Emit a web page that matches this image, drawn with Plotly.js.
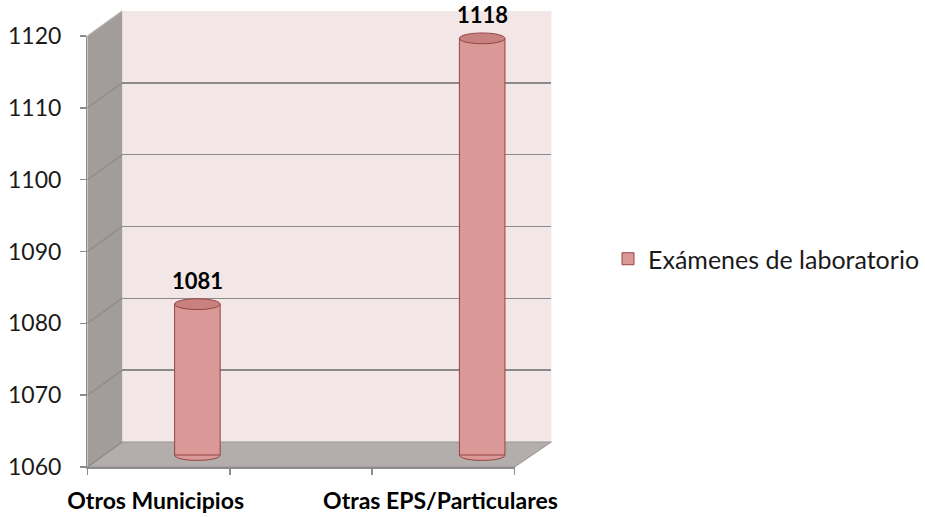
<!DOCTYPE html>
<html>
<head>
<meta charset="utf-8">
<script src="https://cdn.plot.ly/plotly-3.0.1.min.js"></script>
<style>html,body{margin:0;padding:0;background:#fff;}#chart{width:925px;height:517px;}</style>
</head>
<body>
<div id="chart"></div>
<script>
// ---- data ----
const categories = ['Otros Municipios', ' ', 'Otras EPS/Particulares'];
const values = [1081, null, 1118];
const seriesName = 'Exámenes de laboratorio';
const yTickVals = [1060, 1070, 1080, 1090, 1100, 1110, 1120];
const yTickText = ['1060', '1070', '1080', '1090', '1100', '1110', '1120'];

// ---- geometry helpers (pixel -> paper) ----
const W = 925, H = 517;
const px = x => x / W;
const py = y => 1 - y / H;
const yMin = 1060, yMax = 1120;
const FONT = 'Lato, "Open Sans", "DejaVu Sans", sans-serif';

// front plane
const front = {x0: 88, x1: 518, yb: 467, yt: 36};
const depth = {dx: 35, dy: -25};
const scale = (front.yb - front.yt) / (yMax - yMin);
// bar plane
const barPlane = {x0: 127, x1: 557, yb: 455};
const yTopPad = 3;
const barWidth = 0.32;

function yFront(v) { return front.yb - (v - yMin) * scale; }

const shapes = [];
// back wall
shapes.push({type: 'rect', xref: 'paper', yref: 'paper', layer: 'below',
  x0: px(front.x0 + depth.dx), x1: px(front.x1 + depth.dx + 2),
  y0: py(front.yb + depth.dy), y1: py(front.yt + depth.dy),
  fillcolor: '#f3e6e6', line: {width: 0}});
// side wall
shapes.push({type: 'path', xref: 'paper', yref: 'paper', layer: 'below',
  path: `M ${px(front.x0)},${py(front.yt)} L ${px(front.x0 + depth.dx)},${py(front.yt + depth.dy)} L ${px(front.x0 + depth.dx)},${py(front.yb + depth.dy)} L ${px(front.x0)},${py(front.yb)} Z`,
  fillcolor: '#a29d9b', line: {width: 0}});
// floor
shapes.push({type: 'path', xref: 'paper', yref: 'paper', layer: 'below',
  path: `M ${px(front.x0)},${py(front.yb)} L ${px(front.x1)},${py(front.yb)} L ${px(front.x1 + depth.dx + 2)},${py(front.yb + depth.dy)} L ${px(front.x0 + depth.dx)},${py(front.yb + depth.dy)} Z`,
  fillcolor: '#b3aeac', line: {color: '#9a9593', width: 1}});
// diagonal grid lines on the side wall
yTickVals.forEach(v => {
  const yf = yFront(v);
  shapes.push({type: 'line', xref: 'paper', yref: 'paper', layer: 'below',
    x0: px(front.x0), y0: py(yf), x1: px(front.x0 + depth.dx), y1: py(yf + depth.dy),
    line: {color: v === yMax ? '#b8b3b1' : '#8f8a88', width: 1.3}});
});
// cylinder caps (from data)
const catW = (barPlane.x1 - barPlane.x0) / categories.length;
values.forEach((v, i) => {
  if (v === null) return;
  const eh = 0.75;
  // top ellipse
  shapes.push({type: 'circle', xref: 'x2', yref: 'y2', layer: 'above',
    x0: i - barWidth / 2, x1: i + barWidth / 2, y0: v - eh, y1: v + eh,
    fillcolor: '#c98180', line: {color: '#934543', width: 1}});
  // bottom rounded edge
  const cx = barPlane.x0 + (i + 0.5) * catW;
  const a = barWidth / 2 * catW;
  const b = eh * scale;
  const yc = barPlane.yb;
  const k = 4 / 3;
  shapes.push({type: 'path', xref: 'paper', yref: 'paper', layer: 'above',
    path: `M ${px(cx - a)},${py(yc)} C ${px(cx - a)},${py(yc + k * b)} ${px(cx + a)},${py(yc + k * b)} ${px(cx + a)},${py(yc)} Z`,
    fillcolor: '#da9897', line: {color: '#934543', width: 1}});
});

const annotations = values.map((v, i) => v === null ? null : ({
  xref: 'x2', yref: 'y2', x: i, y: v, text: '<b>' + v + '</b>',
  showarrow: false, yanchor: 'bottom', yshift: 8,
  font: {family: FONT, size: 22, color: '#000'}
})).filter(a => a);

const traces = [
  // back wall subplot (for gridlines)
  {type: 'scatter', x: [0, 1], y: [yMin, yMax], mode: 'markers', marker: {opacity: 0},
   xaxis: 'x', yaxis: 'y', showlegend: false, hoverinfo: 'skip'},
  // bars
  {type: 'bar', x: categories, y: values, name: seriesName,
   xaxis: 'x2', yaxis: 'y2', width: barWidth,
   marker: {color: '#da9897', line: {color: '#934543', width: 1}},
   hoverinfo: 'x+y'},
  // front axes carrier
  {type: 'scatter', x: categories, y: values, mode: 'markers', marker: {opacity: 0},
   xaxis: 'x3', yaxis: 'y3', showlegend: false, hoverinfo: 'skip'}
];

const layout = {
  width: W, height: H,
  margin: {l: 0, r: 0, t: 0, b: 0},
  paper_bgcolor: '#ffffff',
  plot_bgcolor: 'rgba(0,0,0,0)',
  showlegend: true,
  legend: {x: px(612), y: py(259), xanchor: 'left', yanchor: 'middle', itemwidth: 30,
    font: {family: FONT, size: 25, color: '#1a1a1a'}, bgcolor: 'rgba(0,0,0,0)'},
  xaxis: {domain: [px(front.x0 + depth.dx), px(front.x1 + depth.dx + 2)], range: [0, 1],
    visible: false, fixedrange: true},
  yaxis: {domain: [py(front.yb + depth.dy), py(front.yt + depth.dy)], range: [yMin, yMax],
    tickvals: yTickVals, showgrid: true, gridcolor: '#8a8a8a', gridwidth: 1.5,
    showticklabels: false, ticks: '', zeroline: false, showline: false, fixedrange: true},
  xaxis2: {domain: [px(barPlane.x0), px(barPlane.x1)], type: 'category',
    categoryarray: categories, categoryorder: 'array', range: [-0.5, 2.5],
    visible: false, fixedrange: true},
  yaxis2: {domain: [py(barPlane.yb), py(barPlane.yb - (yMax + yTopPad - yMin) * scale)],
    range: [yMin, yMax + yTopPad], visible: false, fixedrange: true},
  xaxis3: {domain: [px(front.x0), px(front.x1)], type: 'category',
    categoryarray: categories, categoryorder: 'array', range: [-0.5, 2.5],
    anchor: 'y3', showline: true, linecolor: '#8c8c8c', linewidth: 1.5,
    ticks: 'outside', tickson: 'boundaries', ticklen: 6, tickcolor: '#8c8c8c', tickwidth: 1.5,
    showgrid: false, ticklabelstandoff: 13, tickangle: 0, ticklabelshift: -3,
    tickfont: {family: FONT, size: 23, color: '#000', weight: 'bold'}, fixedrange: true},
  yaxis3: {domain: [py(front.yb), py(front.yt)], range: [yMin, yMax], anchor: 'x3',
    tickvals: yTickVals, ticktext: yTickText, showline: true, linecolor: '#8c8c8c', linewidth: 1.5,
    ticks: 'outside', ticklen: 6, tickcolor: '#8c8c8c', tickwidth: 1.5, showgrid: false,
    zeroline: false, ticklabelstandoff: 14,
    tickfont: {family: FONT, size: 23, color: '#1a1a1a'}, fixedrange: true},
  shapes: shapes,
  annotations: annotations
};

Plotly.newPlot('chart', traces, layout, {displayModeBar: false, staticPlot: true});
</script>
</body>
</html>
